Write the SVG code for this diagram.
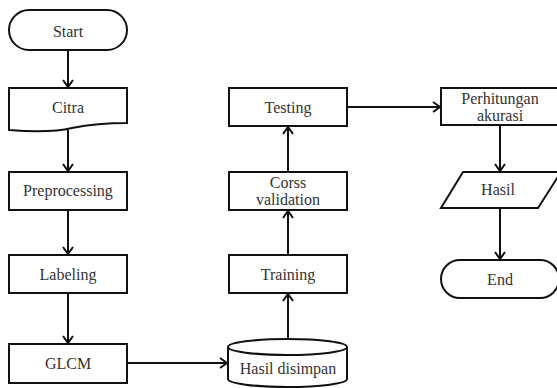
<svg xmlns="http://www.w3.org/2000/svg" width="557" height="388" viewBox="0 0 557 388" font-family="Liberation Serif, DejaVu Serif, serif">
<style>
.s{fill:#fff;stroke:#111;stroke-width:2}
.t{font-size:16px;fill:#333;text-anchor:middle}
.c{fill:none;stroke:#111;stroke-width:2}
</style>
<defs>
<marker id="a" markerWidth="12" markerHeight="12" refX="9" refY="6" orient="auto" markerUnits="userSpaceOnUse">
<polyline points="2,1 9,6 2,11" fill="none" stroke="#111" stroke-width="2"/>
</marker>
</defs>
<rect width="557" height="388" fill="#fff"/>
<g id="start"><rect class="s" x="9" y="10" width="118" height="40" rx="20"/><text class="t" x="68" y="37" font-family="Liberation Serif, serif">Start</text></g>
<g id="citra"><path class="s" d="M9,88 H127 V123 C110,123 92,124 72,128 C55,132 35,132 9,130 Z"/><text class="t" x="68" y="113">Citra</text></g>
<g id="preprocessing"><rect class="s" x="9" y="172" width="118" height="38"/><text class="t" x="68" y="196">Preprocessing</text></g>
<g id="labeling"><rect class="s" x="9" y="255" width="118" height="38"/><text class="t" x="68" y="280">Labeling</text></g>
<g id="glcm"><rect class="s" x="9" y="344" width="118" height="39"/><text class="t" x="68" y="369">GLCM</text></g>
<g id="hasil-disimpan"><path class="s" d="M228,347 A59.5,8 0 0 1 347,347 V379 A59.5,8 0 0 1 228,379 Z"/><path class="c" d="M228,347 A59.5,8 0 0 0 347,347"/><text class="t" x="288" y="374">Hasil disimpan</text></g>
<g id="training"><rect class="s" x="229" y="255" width="118" height="38"/><text class="t" x="288" y="280">Training</text></g>
<g id="cross-validation"><rect class="s" x="229" y="172" width="118" height="38"/><text class="t" x="288" y="188">Corss</text><text class="t" x="288" y="205">validation</text></g>
<g id="testing"><rect class="s" x="229" y="88" width="118" height="38"/><text class="t" x="288" y="113">Testing</text></g>
<g id="perhitungan"><rect class="s" x="441" y="88" width="118" height="37"/><text class="t" x="500" y="104">Perhitungan</text><text class="t" x="500" y="121">akurasi</text></g>
<g id="hasil"><polygon class="s" points="463,172 561,172 538,208 441,208"/><text class="t" x="498" y="195">Hasil</text></g>
<g id="end"><rect class="s" x="441" y="260" width="118" height="38" rx="19"/><text class="t" x="500" y="285">End</text></g>
<g id="connectors">
<line class="c" x1="68" y1="50" x2="68" y2="87" marker-end="url(#a)"/>
<line class="c" x1="68" y1="130" x2="68" y2="171" marker-end="url(#a)"/>
<line class="c" x1="68" y1="210" x2="68" y2="254" marker-end="url(#a)"/>
<line class="c" x1="68" y1="293" x2="68" y2="343" marker-end="url(#a)"/>
<line class="c" x1="127" y1="363" x2="227" y2="363" marker-end="url(#a)"/>
<line class="c" x1="288" y1="339" x2="288" y2="294" marker-end="url(#a)"/>
<line class="c" x1="288" y1="255" x2="288" y2="211" marker-end="url(#a)"/>
<line class="c" x1="288" y1="172" x2="288" y2="127" marker-end="url(#a)"/>
<line class="c" x1="347" y1="107" x2="440" y2="107" marker-end="url(#a)"/>
<line class="c" x1="500" y1="125" x2="500" y2="171" marker-end="url(#a)"/>
<line class="c" x1="500" y1="208" x2="500" y2="259" marker-end="url(#a)"/>
</g>
</svg>
